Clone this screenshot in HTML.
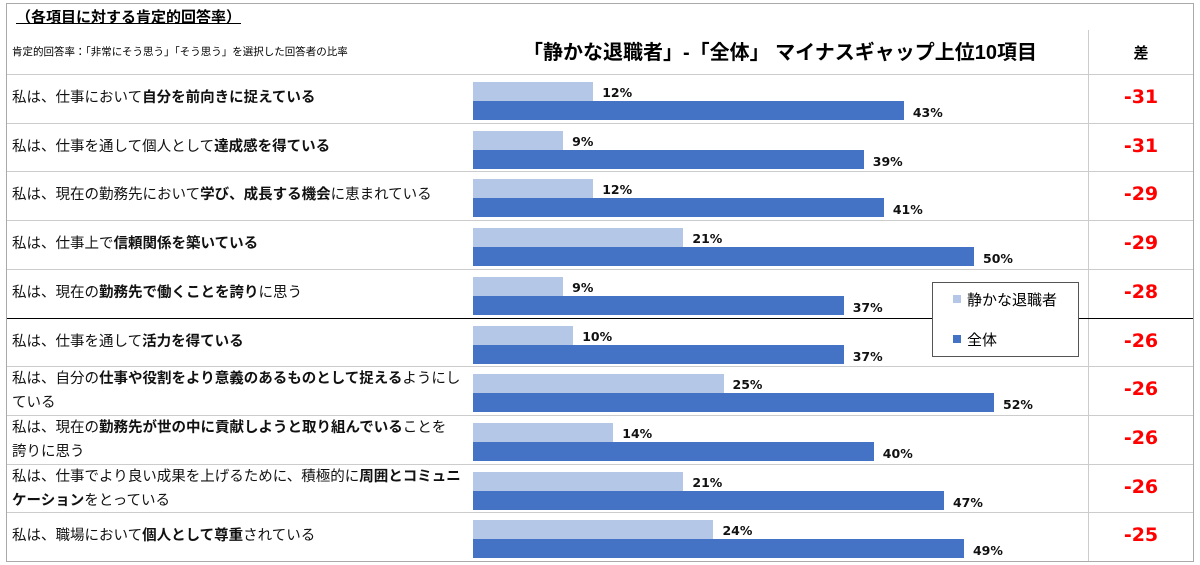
<!DOCTYPE html>
<html><head><meta charset="utf-8">
<style>
body{margin:0;background:#fff;width:1200px;height:565px;overflow:hidden;font-family:"Liberation Sans","Noto Sans CJK JP",sans-serif;}
#c{position:absolute;left:0;top:0;width:1200px;height:565px;}
.a{position:absolute;}
.lab{position:absolute;left:12px;width:442px;font-size:14.5px;line-height:24px;color:#111;}
.lab b{font-weight:bold;}
.pct{position:absolute;font-family:"DejaVu Sans","Noto Sans CJK JP",sans-serif;font-size:12.5px;font-weight:bold;color:#111;}
.diff{position:absolute;left:1088px;width:106px;text-align:center;font-family:"DejaVu Sans",sans-serif;font-size:19px;font-weight:bold;color:#f00;}
</style></head><body>
<div id="c">
  <div class="a" style="left:6px;top:3px;width:1186px;height:557px;border:1px solid #aaa;"></div>
  <div class="a" style="left:16px;top:6px;font-size:15px;font-weight:bold;text-decoration:underline;">（各項目に対する肯定的回答率）</div>
  <div class="a" style="left:12px;top:44px;font-size:10.5px;">肯定的回答率：「非常にそう思う」「そう思う」を選択した回答者の比率</div>
  <div class="a" style="left:470px;width:620px;text-align:center;top:36px;font-size:20px;font-weight:bold;">「静かな退職者」-「全体」 マイナスギャップ上位10項目</div>
  <div class="a" style="left:1088px;width:106px;text-align:center;top:42px;font-size:15px;font-weight:bold;">差</div>
  <div class="a" style="left:1088px;top:30px;width:1px;height:531px;background:#ccc;"></div>
  <div id="rows"></div>
  <div class="a" style="left:932px;top:282px;width:145px;height:73px;border:1px solid #555;background:#fff;">
    <div class="a" style="left:20px;top:6px;font-size:15px;"><span style="display:inline-block;width:8px;height:8px;background:#b4c7e7;margin-right:6px;vertical-align:2px;"></span>静かな退職者</div>
    <div class="a" style="left:20px;top:46px;font-size:15px;"><span style="display:inline-block;width:8px;height:8px;background:#4472c4;margin-right:6px;vertical-align:2px;"></span>全体</div>
  </div>
</div>
<script>
const categories = [
 '私は、仕事において<b>自分を前向きに捉えている</b>',
 '私は、仕事を通して個人として<b>達成感を得ている</b>',
 '私は、現在の勤務先において<b>学び、成長する機会</b>に恵まれている',
 '私は、仕事上で<b>信頼関係を築いている</b>',
 '私は、現在の<b>勤務先で働くことを誇り</b>に思う',
 '私は、仕事を通して<b>活力を得ている</b>',
 '私は、自分の<b>仕事や役割をより意義のあるものとして捉える</b>ようにし<br>ている',
 '私は、現在の<b>勤務先が世の中に貢献しようと取り組んでいる</b>ことを<br>誇りに思う',
 '私は、仕事でより良い成果を上げるために、積極的に<b>周囲とコミュニ<br>ケーション</b>をとっている',
 '私は、職場において<b>個人として尊重</b>されている'
];
const quietValues = [12,9,12,21,9,10,25,14,21,24];
const allValues = [43,39,41,50,37,37,52,40,47,49];
const diffValues = [-31,-31,-29,-29,-28,-26,-26,-26,-26,-25];

const x0 = 473, pxPer = 10.02, top0 = 74, rowH = 48.7;
const xs = v => x0 + v*pxPer;
const rows = document.getElementById('rows');
function add(parent, cls, style, html){
  const d=document.createElement('div'); if(cls) d.className=cls; d.style.cssText=style; if(html!==undefined) d.innerHTML=html; parent.appendChild(d); return d;
}
categories.forEach((cat,i)=>{
  const y = top0 + i*rowH;
  const sep = add(rows,'a',`left:7px;top:${y}px;width:1186px;height:${i===5?1.5:1}px;background:${i===5?'#000':'#ccc'};`);
  
  
  const twoLine = i>=6 && i<=8;
  const lab = add(rows,'lab',`top:${twoLine? y+1 : y+12}px;white-space:nowrap;`, cat);
  
  
  const b1 = add(rows,'a',`left:${x0}px;top:${y+8}px;width:${xs(quietValues[i])-x0}px;height:19px;background:#b4c7e7;`);
  
  
  const b2 = add(rows,'a',`left:${x0}px;top:${y+27}px;width:${xs(allValues[i])-x0}px;height:19px;background:#4472c4;`);
  
  
  const l1 = add(rows,'pct',`left:${xs(quietValues[i])+9}px;top:${y+11}px;`, quietValues[i]+'%');
  
  
  const l2 = add(rows,'pct',`left:${xs(allValues[i])+9}px;top:${y+31}px;`, allValues[i]+'%');
  
  
  const d = add(rows,'diff',`top:${y+12}px;`, String(diffValues[i]));
  
  
});
</script>
</body></html>
